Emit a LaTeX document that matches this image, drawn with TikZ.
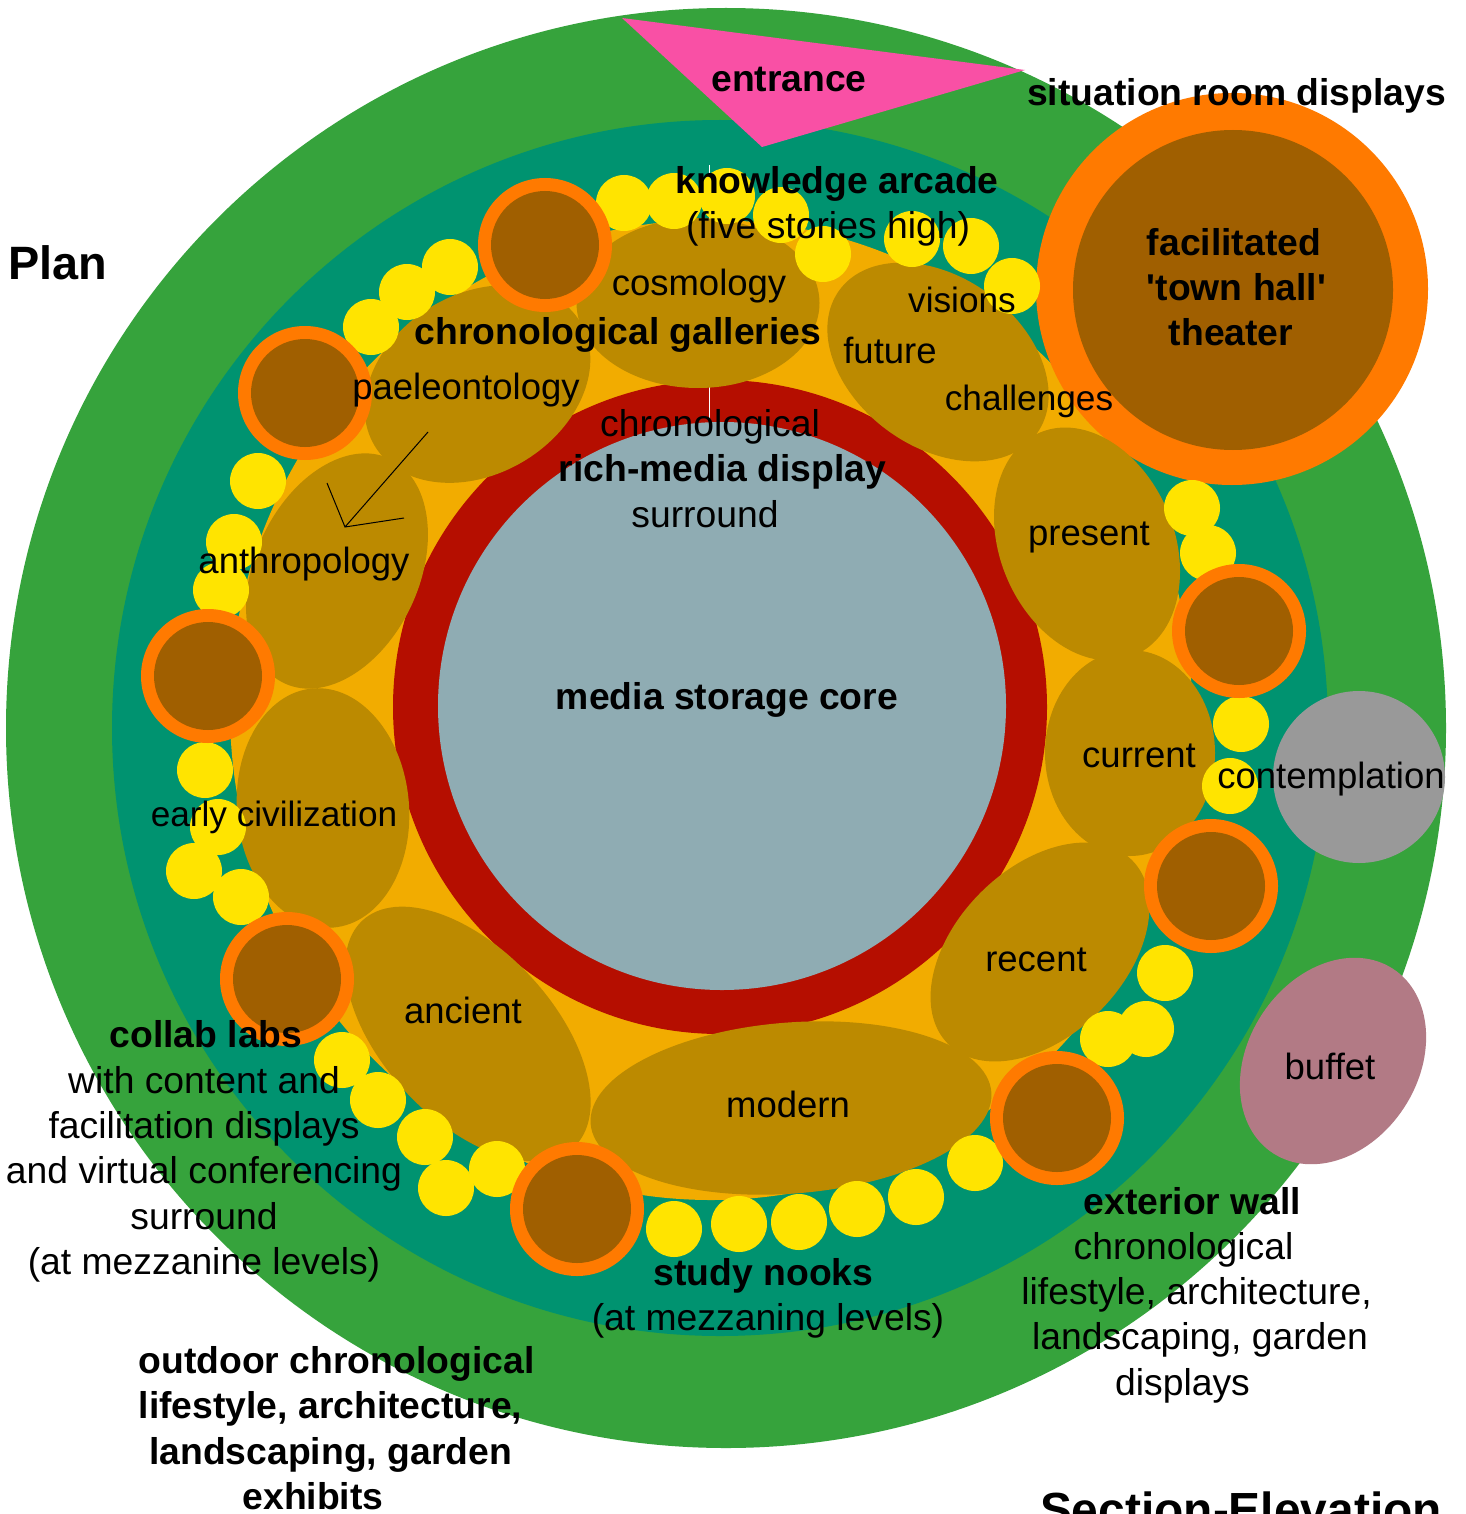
\documentclass[tikz,border=0pt]{standalone}
\usepackage{fontspec}
\setmainfont{Liberation Sans}
\newfontfamily\plainfam{Liberation Sans}
\definecolor{cgreen}{HTML}{36A33C}
\definecolor{cteal}{HTML}{009370}
\definecolor{camber}{HTML}{F2AC00}
\definecolor{cred}{HTML}{B50E00}
\definecolor{ccore}{HTML}{8FACB3}
\definecolor{cpink}{HTML}{F950A5}
\definecolor{corange}{HTML}{FF7A00}
\definecolor{cbrown}{HTML}{A05F00}
\definecolor{cgallery}{HTML}{BC8A00}
\definecolor{cyellow}{HTML}{FFE400}
\definecolor{cgray}{HTML}{999999}
\definecolor{cmauve}{HTML}{B27A85}
\tikzset{
  lbl/.style={inner sep=0pt,outer sep=0pt,align=center,text=black,font=\fontsize{36.5}{45.3}\selectfont},
  lbltight/.style={lbl,font=\fontsize{35.2}{45.3}\selectfont},
  multilbl/.style={lbl,font=\fontsize{37.3}{45.3}\selectfont},
  blbl/.style={lbl,font=\fontsize{37.3}{45.3}\selectfont\bfseries},
  gallery/.style={fill=cgallery},
  nook/.style={fill=cyellow},
  ringout/.style={fill=corange},
  ringin/.style={fill=cbrown},
  thinline/.style={draw=black,line width=1pt}
}
\begin{document}
\begin{tikzpicture}[x=1pt,y=-1pt]
\useasboundingbox (0,0) rectangle (1465,1514);
\clip (0,0) rectangle (1465,1514);
\fill[white] (0,0) rectangle (1465,1514);
% grounds
\fill[cgreen] (726,728) circle [radius=720];
\fill[cteal] (720,728) circle [radius=608];
\fill[cpink] (622,18) -- (1025,70) -- (762,147) -- cycle;
\fill[camber] (711,710) ellipse [x radius=481,y radius=490];
\fill[cred] (720,707) circle [radius=327];
\draw[white,line width=1pt] (709.5,165) -- (709.5,428);
\fill[ccore] (722,706) circle [radius=284];
\draw[white,line width=1pt] (709.5,388) -- (709.5,424);
% theater
\fill[ringout] (1232,289) circle [radius=196];
\fill[ringin] (1233,290) circle [radius=160];
% galleries
\fill[gallery] (698,303) ellipse [x radius=121.5,y radius=85];
\fill[gallery,rotate around={31:(477.5,384)}] (477.5,384) ellipse [x radius=120,y radius=90];
\fill[gallery,rotate around={-36:(938,362)}] (938,362) ellipse [x radius=122,y radius=85];
\fill[gallery,rotate around={-67:(1087,544)}] (1087,544) ellipse [x radius=121,y radius=87];
\fill[gallery] (1130,753) ellipse [x radius=85,y radius=103];
\fill[gallery,rotate around={45:(1040,952)}] (1040,952) ellipse [x radius=130,y radius=84];
\fill[gallery,rotate around={4.5:(791,1108)}] (791,1108) ellipse [x radius=201,y radius=85.5];
\fill[gallery,rotate around={-47:(468,1034)}] (468,1034) ellipse [x radius=155,y radius=85];
\fill[gallery,rotate around={5:(323,808)}] (323,808) ellipse [x radius=86,y radius=120];
\fill[gallery,rotate around={65:(337,571)}] (337,571) ellipse [x radius=124,y radius=82];
% other rooms
\fill[cgray] (1359,777) circle [radius=86];
\fill[cmauve,rotate around={57:(1333,1061)}] (1333,1061) ellipse [x radius=110,y radius=85];
% study nooks
\foreach \p in {(624,203),(674,201),(727,196),(781,215),(823,254),(912,239),(971,246),(1012,286),
  (1192,508),(1208,553),(1241,724),(1230,786),(1165,973),(1146,1029),(1108,1039),
  (975,1163),(916,1197),(857,1209),(799,1222),(739,1224),(674,1229),
  (497,1169),(446,1188),(425,1137),(378,1100),(342,1060),
  (241,897),(194,871),(218,827),(205,770),(221,590),(234,542),(258,481),
  (371,327),(407,292),(450,267)}
  \fill[nook] \p circle [radius=28];
% collab labs
\foreach \p in {(545,245),(305,393),(208,676),(287,979),(577,1209),(1057,1118),(1211,886),(1239,631)}{
  \fill[ringout] \p circle [radius=67];
  \fill[ringin] \p circle [radius=54];
}
% stray arrow
\coordinate (atail) at (428,432);
\coordinate (ahead) at (345,527);
\coordinate (awinga) at (327,483);
\coordinate (awingb) at (404,518);
\draw[thinline] (atail) -- (ahead) (awinga) -- (ahead) -- (awingb);
% labels
\node[lbl,font=\fontsize{46.8}{50}\selectfont\bfseries] (plan) at (58,263) {Plan};
\node[lbl,font=\fontsize{47.9}{50}\selectfont\bfseries,anchor=base west] (section) at (1040,1526) {Section-Elevation};
\node[blbl] (entrance) at (789,80) {entrance};
\node[blbl] (situation) at (1236.5,96) {situation room displays};
\node[multilbl] (arcade) at (837,206.5) {\textbf{knowledge arcade}\\\hspace*{-18pt}(five stories high)};
\node[blbl] (theater) at (1234,287) {facilitated\\\hspace*{5pt}{\plainfam 'town hall'}\\\hspace*{-6pt}theater};
\node[blbl] (chrongal) at (618,335) {chronological galleries};
\node[multilbl] (surround) at (722.5,468.5) {\hspace*{-25pt}chronological\\\textbf{rich-media display}\\\hspace*{-35pt}surround};
\node[blbl] (core) at (727,700) {media storage core};
\node[lbl] (cosmology) at (699,286) {cosmology};
\node[lbl] (paleo) at (466,390) {paeleontology};
\node[lbltight] (visions) at (962,300) {visions};
\node[lbl] (future) at (890,350) {future};
\node[lbltight] (challenges) at (1029,401) {challenges};
\node[lbl] (present) at (1089,537) {present};
\node[lbl] (current) at (1139,756) {current};
\node[lbl] (contemplation) at (1331,779) {contemplation};
\node[lbl] (recent) at (1036,960) {recent};
\node[lbl] (buffet) at (1330,1066) {buffet};
\node[lbl] (modern) at (788,1104) {modern};
\node[lbl] (ancient) at (463,1010) {ancient};
\node[lbltight] (earlyciv) at (274,817) {early civilization};
\node[lbl] (anthro) at (304,564) {anthropology};
\node[multilbl] (collab) at (204,1151.5) {\hspace*{4pt}\textbf{collab labs}\\with content and\\facilitation displays\\and virtual conferencing\\surround\\(at mezzanine levels)};
\node[multilbl] (nooks) at (768,1298.5) {\hspace*{-9pt}\textbf{study nooks}\\(at mezzaning levels)};
\node[multilbl] (wall) at (1196.5,1295) {\hspace*{-8pt}\textbf{exterior wall}\\\hspace*{-26pt}chronological\\lifestyle, architecture,\\\hspace*{7pt}landscaping, garden\\\hspace*{-28pt}displays};
\node[blbl] (outdoor) at (330.5,1428) {\hspace*{12pt}outdoor chronological\\lifestyle, architecture,\\landscaping, garden\\\hspace*{-35pt}exhibits};
\end{tikzpicture}
\end{document}
